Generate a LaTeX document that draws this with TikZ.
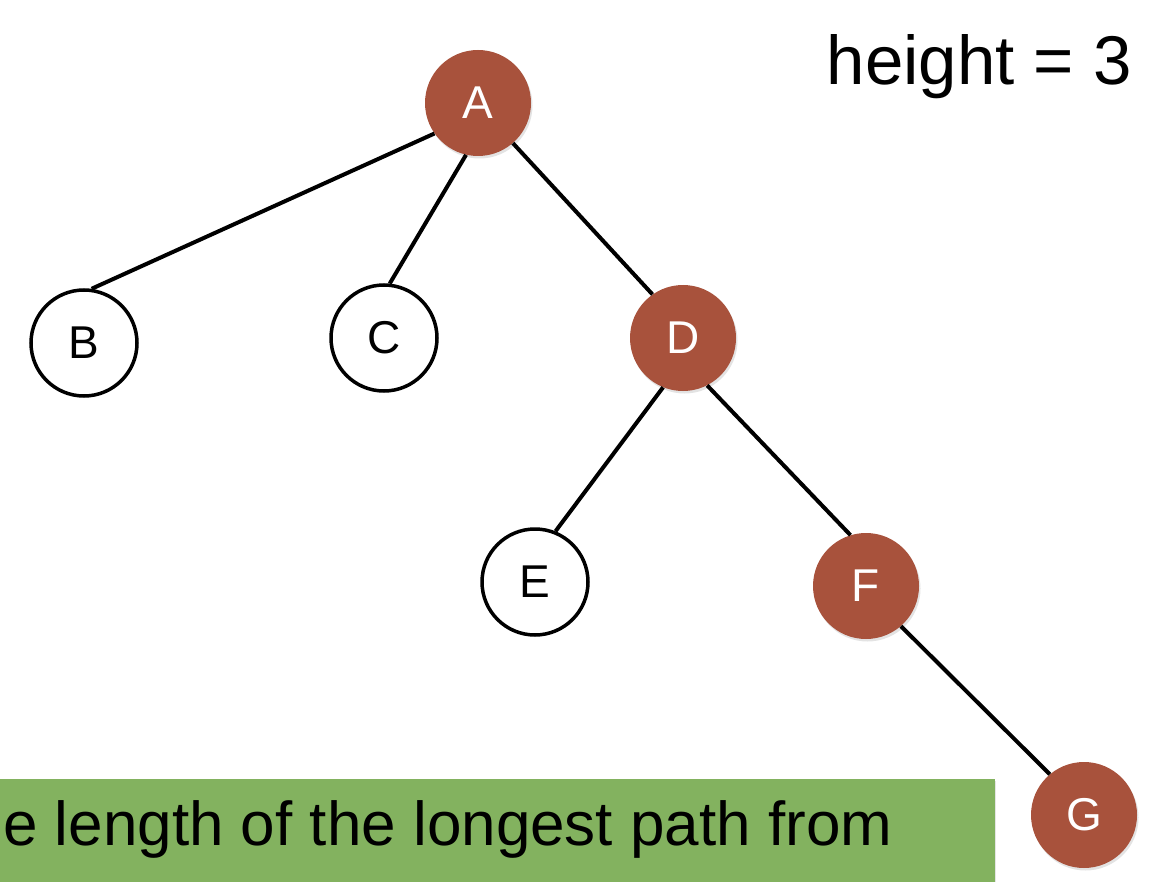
\documentclass[tikz,border=0pt]{standalone}
\usepackage{fontspec}
\setmainfont{Liberation Sans}
\usetikzlibrary{shadows}
\definecolor{nodered}{RGB}{168,82,60}
\definecolor{boxgreen}{RGB}{131,178,95}
\begin{document}
\begin{tikzpicture}[x=1pt,y=-1pt,
  treenode/.style={circle,minimum size=106pt,inner sep=0pt,font=\fontsize{46}{50}\selectfont},
  plainnode/.style={treenode,draw=black,line width=3.5pt,fill=white},
  rednode/.style={treenode,fill=nodered,text=white,
     drop shadow={opacity=0.22,shadow xshift=1.5pt,shadow yshift=-2.5pt}},
  edge/.style={line width=4pt,black}]
\useasboundingbox (0,0) rectangle (1166,882);
\fill[white] (0,0) rectangle (1166,882);
% green box
\fill[boxgreen,drop shadow={opacity=0.2,shadow xshift=1pt,shadow yshift=-2pt}] (-10,779) rectangle (995,900);
\node[anchor=base west,inner sep=0pt,font=\fontsize{62}{74}\selectfont] (caption) at (3,845) {e length of the longest path from};
% height label
\node[anchor=base east,inner sep=0pt,font=\fontsize{69}{80}\selectfont] (hlabel) at (1132,85) {height = 3};
% nodes
\node[rednode] (A) at (478,103) {A};
\node[plainnode] (B) at (84,343) {B};
\node[plainnode] (C) at (384,338) {C};
\node[rednode] (D) at (683,338) {D};
\node[plainnode] (E) at (535,582) {E};
\node[rednode] (F) at (866,586) {F};
\node[rednode] (G) at (1084,815) {G};
% edges
\draw[edge] (A.215) -- (B.82);
\draw[edge] (A.257) -- (C.84);
\draw[edge] (A.311) -- (D.125);
\draw[edge] (D.248) -- (E.68);
\draw[edge] (D.297) -- (F.107);
\draw[edge] (F.311) -- (G.130);
\end{tikzpicture}
\end{document}
